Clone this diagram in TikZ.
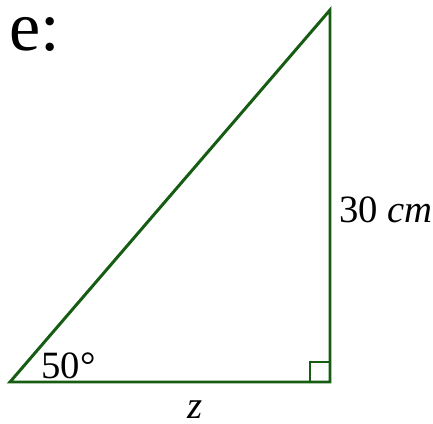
\documentclass[tikz,border=0pt]{standalone}
\usepackage{fontspec}
\setmainfont{Liberation Serif}
\usepackage{xcolor}
\usepackage{tikz}
\definecolor{triGreen}{RGB}{22,92,18}

\begin{document}
\begin{tikzpicture}[
  x=0.02cm, y=-0.02cm,
  every node/.style={inner sep=0pt, text=black},
  side/.style={triGreen, line width=1.7pt, line join=miter},
  lab/.style={font=\fontsize{22}{26}\selectfont},
]
\useasboundingbox (0,0) rectangle (433,423);

%% Vertices
\coordinate (A) at (10,382);
\coordinate (B) at (330,382);
\coordinate (C) at (330,10);

%% Triangle
\draw[side] (A) -- (B) -- (C) -- cycle;

%% Right-angle mark
\draw[triGreen, line width=0.7pt] (310,382) -- (310,362) -- (330,362);

%% Labels
\node[lab, anchor=base west] (ang) at (41,378) {50°};
\node[lab, anchor=base] (base) at (195,418) {\textit{z}};
\node[lab, anchor=base west] (height) at (339,222) {30 \textit{cm}};
\node[font=\fontsize{40}{44}\selectfont, anchor=base west] (title) at (9,50) {e:};

\end{tikzpicture}
\end{document}
